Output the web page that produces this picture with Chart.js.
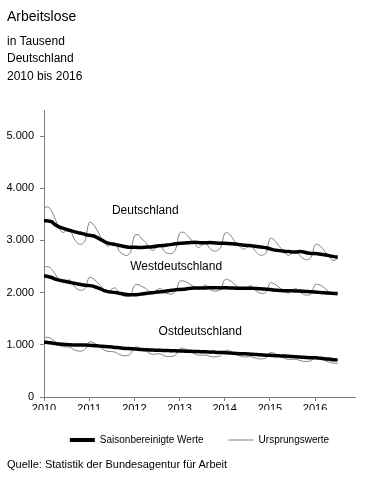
<!DOCTYPE html>
<html>
<head>
<meta charset="utf-8">
<title>Arbeitslose</title>
<script src="https://cdn.jsdelivr.net/npm/chart.js@4"></script>
<style>
html, body { margin: 0; padding: 0; background: #fff; }
#wrap { position: relative; width: 368px; height: 478px; font-family: Arial, "Liberation Sans", sans-serif; color: #000; }
#wrap canvas { position: absolute; left: 0; top: 0; }
.t { position: absolute; left: 7px; white-space: nowrap; line-height: 1; }
</style>
</head>
<body>
<div id="wrap">
  <canvas id="chart" width="368" height="478"></canvas>
  <div class="t" style="top:9px;font-size:14px">Arbeitslose</div>
  <div class="t" style="top:35px;font-size:12px">in Tausend</div>
  <div class="t" style="top:52px;font-size:12px">Deutschland</div>
  <div class="t" style="top:70px;font-size:12px">2010 bis 2016</div>
  <div class="t" style="top:459px;font-size:11px">Quelle: Statistik der Bundesagentur für Arbeit</div>
</div>
<script>
// Jahre (Achsenbeschriftung), Monatswerte Jan 2010 - Jul 2016, in Tausend
const years = ['2010', '2011', '2012', '2013', '2014', '2015', '2016'];
const yTicks = [0, 1000, 2000, 3000, 4000, 5000];
const regions = ['Deutschland', 'Westdeutschland', 'Ostdeutschland'];

const deOrig = [
  3617, 3643, 3568, 3406, 3242, 3153, 3192, 3188, 3031, 2945, 2927, 3016,
  3346, 3313, 3210, 3078, 2960, 2893, 2939, 2945, 2796, 2737, 2713, 2780,
  3084, 3110, 3028, 2963, 2855, 2809, 2876, 2905, 2788, 2753, 2751, 2840,
  3138, 3156, 3098, 3020, 2937, 2865, 2914, 2946, 2849, 2801, 2806, 2874,
  3136, 3138, 3055, 2943, 2882, 2833, 2871, 2902, 2808, 2733, 2717, 2764,
  3032, 3017, 2932, 2843, 2762, 2711, 2773, 2796, 2708, 2649, 2633, 2681,
  2920, 2911, 2845, 2744, 2664, 2614, 2661
];
const deSA = [
  3380, 3375, 3360, 3300, 3260, 3235, 3210, 3190, 3170, 3150, 3135, 3115,
  3100, 3090, 3060, 3020, 2980, 2950, 2935, 2920, 2905, 2890, 2875, 2870,
  2870, 2865, 2865, 2870, 2875, 2880, 2895, 2900, 2905, 2915, 2925, 2935,
  2945, 2950, 2955, 2960, 2965, 2960, 2955, 2955, 2960, 2955, 2950, 2945,
  2945, 2940, 2935, 2930, 2920, 2910, 2905, 2900, 2890, 2880, 2870, 2860,
  2840, 2820, 2810, 2800, 2790, 2790, 2780, 2780, 2790, 2780, 2760, 2750,
  2750, 2740, 2730, 2720, 2705, 2690, 2680
];
const westOrig = [
  2482, 2499, 2452, 2353, 2249, 2190, 2232, 2237, 2125, 2063, 2045, 2096,
  2290, 2270, 2207, 2133, 2062, 2019, 2070, 2087, 1983, 1942, 1922, 1953,
  2136, 2156, 2116, 2081, 2018, 1991, 2051, 2080, 2000, 1977, 1974, 2029,
  2213, 2224, 2196, 2153, 2105, 2063, 2111, 2145, 2068, 2032, 2032, 2077,
  2248, 2245, 2201, 2131, 2094, 2065, 2102, 2131, 2058, 2001, 1985, 2013,
  2184, 2173, 2126, 2073, 2024, 1993, 2051, 2076, 2009, 1966, 1950, 1983,
  2153, 2153, 2119, 2056, 1999, 1965, 2014
];
const westSA = [
  2320, 2310, 2290, 2260, 2240, 2225, 2210, 2195, 2180, 2165, 2150, 2140,
  2135, 2125, 2100, 2070, 2040, 2020, 2010, 2000, 1990, 1975, 1965, 1960,
  1960, 1965, 1975, 1985, 1995, 2000, 2010, 2015, 2025, 2035, 2045, 2055,
  2060, 2065, 2075, 2085, 2090, 2090, 2090, 2090, 2095, 2095, 2095, 2090,
  2095, 2090, 2090, 2085, 2085, 2085, 2085, 2085, 2080, 2075, 2070, 2065,
  2060, 2050, 2045, 2040, 2035, 2035, 2035, 2030, 2030, 2025, 2020, 2015,
  2010, 2005, 2000, 1995, 1990, 1985, 1980
];
const ostOrig = [
  1135, 1144, 1116, 1053, 993, 963, 960, 951, 906, 882, 882, 920,
  1056, 1043, 1003, 945, 898, 874, 869, 858, 813, 795, 791, 827,
  948, 954, 912, 882, 837, 818, 825, 825, 788, 776, 777, 811,
  925, 932, 902, 867, 832, 802, 803, 801, 781, 769, 774, 797,
  888, 893, 854, 812, 788, 768, 769, 771, 750, 732, 732, 751,
  848, 844, 806, 770, 738, 718, 722, 720, 699, 683, 683, 698,
  767, 758, 726, 688, 665, 649, 647
];
const ostSA = [
  1050, 1045, 1035, 1025, 1015, 1010, 1005, 1000, 995, 995, 995, 995,
  990, 985, 980, 975, 970, 965, 960, 950, 945, 935, 930, 925,
  920, 915, 910, 905, 900, 900, 895, 895, 890, 890, 885, 885,
  880, 880, 875, 875, 870, 870, 865, 865, 860, 860, 855, 855,
  850, 845, 840, 835, 830, 830, 825, 820, 815, 810, 805, 800,
  800, 795, 790, 785, 785, 780, 775, 770, 765, 760, 755, 750,
  750, 745, 740, 730, 725, 715, 710
];

const FONT = 'Arial, "Liberation Sans", sans-serif';
Chart.defaults.font.family = FONT;
Chart.defaults.color = '#000';

const toPoints = arr => arr.map((v, i) => ({ x: i, y: v }));
const thick = arr => ({ data: toPoints(arr), borderColor: '#000', borderWidth: 3.5, tension: 0.3, pointRadius: 0 });
const thin = arr => ({ data: toPoints(arr), borderColor: '#808080', borderWidth: 1, tension: 0.4, pointRadius: 0 });

// Beschriftung der drei Kurven (Position in Monat / Tausend)
const regionLabels = {
  id: 'regionLabels',
  afterDatasetsDraw(chart) {
    const { ctx, scales: { x, y } } = chart;
    const spots = [[26.9, 3577], [35.1, 2500], [41.5, 1250]];
    ctx.save();
    ctx.font = '12px ' + FONT;
    ctx.fillStyle = '#000';
    ctx.textAlign = 'center';
    ctx.textBaseline = 'middle';
    regions.forEach((name, i) => {
      ctx.fillText(name, x.getPixelForValue(spots[i][0]), y.getPixelForValue(spots[i][1]));
    });
    ctx.restore();
  }
};

new Chart(document.getElementById('chart'), {
  type: 'line',
  data: {
    datasets: [thick(deSA), thick(westSA), thick(ostSA), thin(deOrig), thin(westOrig), thin(ostOrig)]
  },
  options: {
    responsive: false,
    animation: false,
    devicePixelRatio: 1,
    layout: { padding: { top: 110, right: 13, bottom: 23, left: 0 } },
    scales: {
      x: {
        type: 'linear', min: 0, max: 82.6,
        border: { color: '#808080' },
        grid: { drawOnChartArea: false, tickLength: 4, color: '#808080' },
        ticks: { padding: 1, maxRotation: 0, autoSkip: false, font: { size: 11 },
          callback: v => years[Math.round(v / 12)] },
        afterBuildTicks: s => { s.ticks = years.map((yr, i) => ({ value: i * 12 })); },
        afterFit: s => { s.height = 13; }
      },
      y: {
        min: 0, max: 5500,
        border: { color: '#808080' },
        grid: { drawOnChartArea: false, tickLength: 4, color: '#808080' },
        ticks: { padding: 6, font: { size: 11 },
          callback: v => v === 0 ? '0' : (v / 1000) + '.000' },
        afterBuildTicks: s => { s.ticks = yTicks.map(v => ({ value: v })); },
        afterFit: s => { s.width = 44; }
      }
    },
    plugins: {
      title: { display: false },
      tooltip: { enabled: false },
      legend: {
        position: 'bottom',
        fullSize: false,
        onClick: null,
        labels: {
          usePointStyle: true, pointStyleWidth: 25, boxWidth: 25, boxHeight: 10,
          padding: 25, font: { size: 10 }, color: '#000',
          generateLabels: () => [
            { text: 'Saisonbereinigte Werte', pointStyle: 'line', strokeStyle: '#000', fillStyle: '#000', lineWidth: 4, hidden: false },
            { text: 'Ursprungswerte', pointStyle: 'line', strokeStyle: '#808080', fillStyle: '#808080', lineWidth: 1, hidden: false }
          ]
        }
      }
    }
  },
  plugins: [regionLabels]
});
</script>
</body>
</html>
